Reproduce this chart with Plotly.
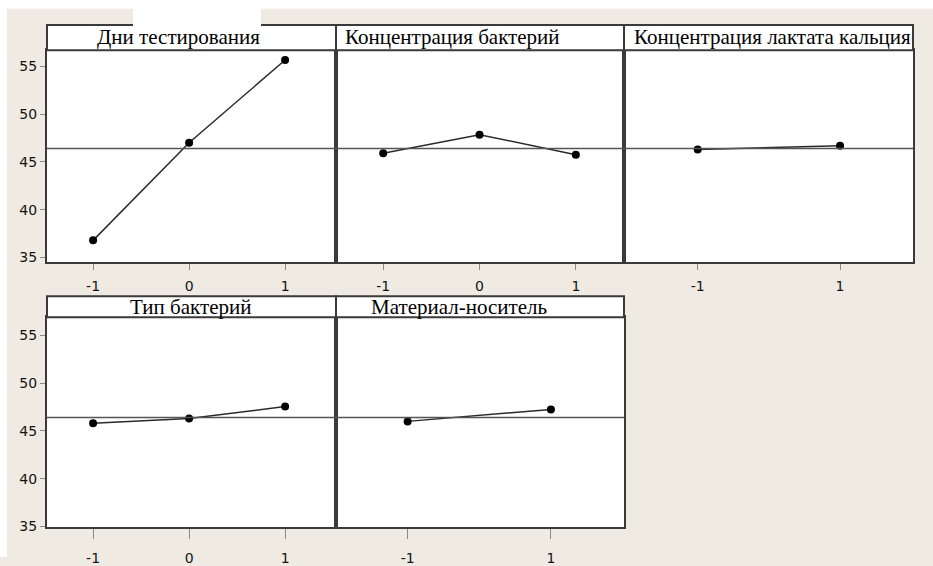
import plotly.graph_objects as go

# ---------------- data ----------------
titles = ["Дни тестирования", "Концентрация бактерий", "Концентрация лактата кальция",
          "Тип бактерий", "Материал-носитель"]
levels_3 = [-1, 0, 1]
levels_2 = [-1, 1]
days_vals = [36.8, 47.0, 55.65]
bact_conc_vals = [45.9, 47.85, 45.75]
lactate_vals = [46.3, 46.7]
bact_type_vals = [45.8, 46.3, 47.55]
carrier_vals = [46.0, 47.25]
grand_mean = 46.4
y_ticks = [35, 40, 45, 50, 55]

panels = [
    (levels_3, days_vals),
    (levels_3, bact_conc_vals),
    (levels_2, lactate_vals),
    (levels_3, bact_type_vals),
    (levels_2, carrier_vals),
]

# ---------------- layout geometry (pixels) ----------------
W, H = 933, 566
def px(x): return x / W
def py(y): return 1 - y / H

cols = [(47, 336), (336, 624), (624, 913)]
x_ranges = [[-1.48, 1.53], [-1.49, 1.50], [-2.035, 2.025], [-1.48, 1.53], [-2.0, 2.02]]
rows = [  # (frame top, data top, data bottom, y-range, x ticklen, label standoff)
    (25.5, 51, 266.7, [34.49, 56.68], 6, 4),
    (301, 322.3, 536, [34.9, 56.9], 10, 7),
]
cells = [(0, 0), (0, 1), (0, 2), (1, 0), (1, 1)]

FRAME = "#3a3a3a"
fig = go.Figure()
layout = dict(
    width=W, height=H,
    margin=dict(l=0, r=0, t=0, b=0),
    paper_bgcolor="#EFEBE2",
    plot_bgcolor="white",
    showlegend=False,
    shapes=[], annotations=[],
)

tickfont = dict(family="DejaVu Sans", size=14, color="#141414")

for i, ((r, c), (xs, ys)) in enumerate(zip(cells, panels)):
    n = "" if i == 0 else str(i + 1)
    ftop, dtop, dbot, yr, tl, so = rows[r]
    x0, x1 = cols[c]
    layout["xaxis" + n] = dict(
        domain=[px(x0), px(x1)], range=x_ranges[i], anchor="y" + n,
        tickvals=xs, ticktext=[str(v) for v in xs],
        ticks="outside", ticklen=tl, tickcolor="#8a8a8a", tickwidth=1,
        ticklabelstandoff=so,
        showline=True, mirror=True, linecolor=FRAME, linewidth=2,
        showgrid=False, zeroline=False, tickfont=tickfont, fixedrange=True,
    )
    layout["yaxis" + n] = dict(
        domain=[py(dbot), py(dtop)], range=yr, anchor="x" + n,
        tickvals=y_ticks if c == 0 else [], ticks="outside" if c == 0 else "",
        ticklen=5, tickcolor="#8a8a8a", tickwidth=1,
        showticklabels=(c == 0),
        showline=True, mirror=True, linecolor=FRAME, linewidth=2,
        showgrid=False, zeroline=False, tickfont=tickfont, fixedrange=True,
    )
    # grand mean reference line
    layout["shapes"].append(dict(
        type="line", xref="x" + n + " domain" if n else "x domain", yref="y" + n,
        x0=0, x1=1, y0=grand_mean, y1=grand_mean,
        line=dict(color="#555555", width=1.5), layer="above",
    ))
    # title strip
    layout["shapes"].append(dict(
        type="rect", xref="paper", yref="paper",
        x0=px(x0), x1=px(x1), y0=py(dtop), y1=py(ftop),
        line=dict(color=FRAME, width=2), fillcolor="white", layer="above",
    ))
    fig.add_trace(go.Scatter(
        x=xs, y=ys, xaxis="x" + n, yaxis="y" + n, mode="lines+markers",
        line=dict(color="#2a2a2a", width=1.5),
        marker=dict(color="black", size=8),
        hoverinfo="skip",
    ))

# white borders of the screenshot
layout["shapes"] += [
    dict(type="rect", xref="paper", yref="paper", x0=0, x1=1, y0=py(9), y1=1,
         line=dict(width=0), fillcolor="white", layer="below"),
    dict(type="rect", xref="paper", yref="paper", x0=0, x1=px(7), y0=0, y1=1,
         line=dict(width=0), fillcolor="white", layer="below"),
    dict(type="rect", xref="paper", yref="paper", x0=px(133), x1=px(261), y0=py(30), y1=1,
         line=dict(width=0), fillcolor="white", layer="above"),
]

# panel titles (positions in pixels)
title_pos = [
    (178, 38, "center"),
    (343, 38, "left"),
    (632, 38, "left"),
    (190, 312, "center"),
    (459, 312, "center"),
]
for t, (x, y, al) in zip(titles, title_pos):
    layout["annotations"].append(dict(
        text=t, xref="paper", yref="paper", x=px(x), y=py(y),
        xanchor=al, yanchor="middle", showarrow=False,
        font=dict(family="Liberation Serif", size=21, color="black"),
    ))

fig.update_layout(**layout)
fig.write_html("out.html", config={"displayModeBar": False},
               post_script="document.body.style.margin='0';document.body.style.padding='0';"
                           "document.documentElement.style.overflow='hidden';")
